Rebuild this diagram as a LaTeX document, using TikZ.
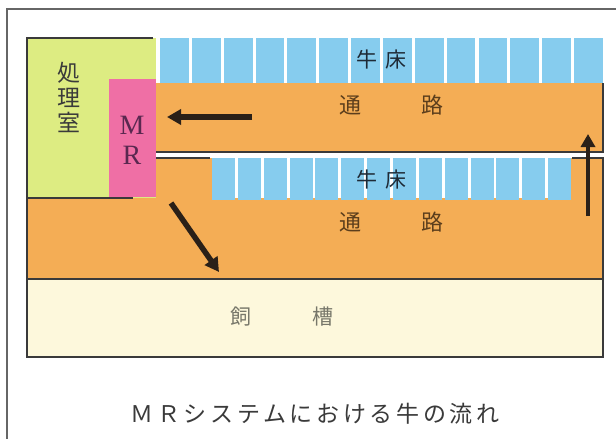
\documentclass[tikz,border=0pt]{standalone}
\usepackage{fontspec}
\newfontfamily\jp{Noto Sans CJK JP}
\newfontfamily\jpcap[LetterSpace=16]{Noto Sans CJK JP}
\newfontfamily\serifl{Liberation Serif}
\usetikzlibrary{arrows.meta}
\definecolor{roomgreen}{HTML}{DDEC82}
\definecolor{mrpink}{HTML}{EF6FA5}
\definecolor{stallblue}{HTML}{86CCEE}
\definecolor{aisleorange}{HTML}{F4AD55}
\definecolor{troughcream}{HTML}{FDF8DC}
\definecolor{wallgray}{HTML}{3A3A3A}
\definecolor{arrowdark}{HTML}{2A2018}
\definecolor{bedtext}{HTML}{1E2A36}
\definecolor{aisletext}{HTML}{5C3E1C}
\definecolor{troughtext}{HTML}{77776A}
\definecolor{mrtext}{HTML}{5A2850}
\tikzset{
  wall/.style={draw=wallgray, line width=1.2pt},
  framel/.style={draw=gray!80!black, line width=1.4pt},
  flowarrow/.style={draw=arrowdark, line width=5.5pt, -{Triangle[length=14pt,width=15pt]}},
  lbl/.style={inner sep=0pt, font=\jp\fontsize{21}{21}\selectfont},
}
\begin{document}
\begin{tikzpicture}[x=1pt,y=-1pt]
\useasboundingbox (0,0) rectangle (616,439);
\fill[white] (0,0) rectangle (616,439);
\draw[framel] (7,439) -- (7,9) -- (616,9);
% areas
\fill[aisleorange] (156,83) rectangle (603,152);
\fill[aisleorange] (27,198) rectangle (603,279);
\fill[aisleorange] (156,158) rectangle (212,200);
\fill[aisleorange] (570,158) rectangle (603,200);
\fill[roomgreen] (27,38) rectangle (156,198);
\fill[mrpink] (109,79) rectangle (156,197);
\fill[troughcream] (27,279) rectangle (603,357);
% stalls
\foreach \i in {0,...,13} {
  \fill[stallblue] ({160+\i*31.85},38) rectangle ++(28.8,45);
  \fill[stallblue] ({212+\i*25.85},158) rectangle ++(23,42);
}
% walls
\draw[wall] (153,38) -- (27,38) -- (27,357) -- (603,357) -- (603,279) -- (27,279);
\draw[wall] (27,198) -- (133,198);
\draw[wall] (156,152) -- (603,152) -- (603,83);
\draw[wall] (156,158) -- (210,158);
\draw[wall] (572,158) -- (603,158) -- (603,279);
% labels
\node[lbl, text=wallgray, align=center, font=\jp\fontsize{23}{25}\selectfont] (room) at (69,97) {処\\理\\室};
\node[lbl, text=mrtext, align=center, font=\serifl\fontsize{28}{30}\selectfont] (mr) at (132,140) {M\\R};
\node[lbl, text=bedtext] (bed1a) at (367,60) {牛};
\node[lbl, text=bedtext] (bed1b) at (396,60) {床};
\node[lbl, text=aisletext, font=\jp\fontsize{22}{22}\selectfont] (ais1a) at (350,105) {通};
\node[lbl, text=aisletext, font=\jp\fontsize{22}{22}\selectfont] (ais1b) at (432,105) {路};
\node[lbl, text=bedtext] (bed2a) at (367,180) {牛};
\node[lbl, text=bedtext] (bed2b) at (396,180) {床};
\node[lbl, text=aisletext, font=\jp\fontsize{22}{22}\selectfont] (ais2a) at (350,222) {通};
\node[lbl, text=aisletext, font=\jp\fontsize{22}{22}\selectfont] (ais2b) at (432,222) {路};
\node[lbl, text=troughtext, font=\jp\fontsize{21}{21}\selectfont] (tra) at (241,317) {飼};
\node[lbl, text=troughtext, font=\jp\fontsize{21}{21}\selectfont] (trb) at (323,317) {槽};
\node[inner sep=0pt, text=wallgray, font=\jpcap\fontsize{23}{23}\selectfont] (cap) at (315,414) {ＭＲシステムにおける牛の流れ};
% arrows
\coordinate (a1s) at (252,117);
\coordinate (a1e) at (167,117);
\coordinate (a2s) at (171,203);
\coordinate (a2e) at (219,272);
\coordinate (a3s) at (588,216);
\coordinate (a3e) at (588,134);
\draw[flowarrow] (a1s) -- (a1e);
\draw[flowarrow] (a2s) -- (a2e);
\draw[flowarrow, line width=4.5pt, -{Triangle[length=13pt,width=14pt]}] (a3s) -- (a3e);
\end{tikzpicture}
\end{document}
